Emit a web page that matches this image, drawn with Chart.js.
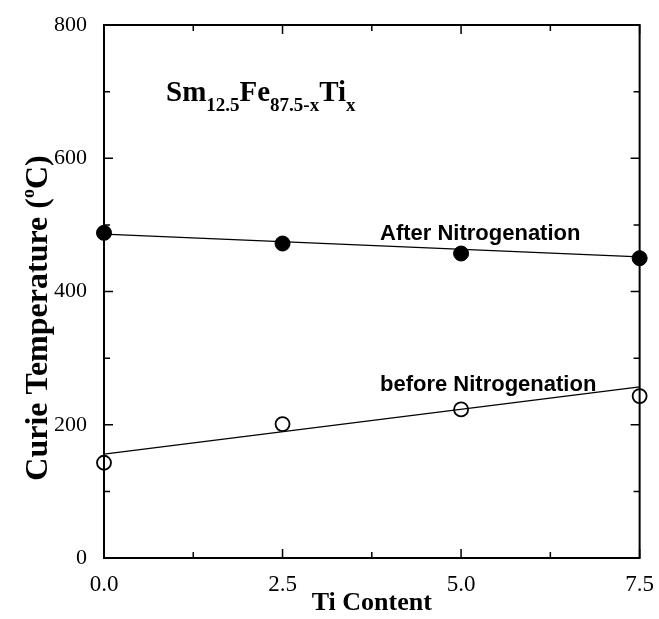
<!DOCTYPE html>
<html>
<head>
<meta charset="utf-8">
<script src="https://cdn.jsdelivr.net/npm/chart.js@4.4.1/dist/chart.umd.min.js"></script>
<style>
  html, body { margin: 0; padding: 0; background: #fff; }
  #wrap { width: 659px; height: 619px; }
</style>
</head>
<body>
<div id="wrap"><canvas id="c"></canvas></div>
<script>
// Ti content (x) and Curie temperatures
const tiContent = [0, 2.5, 5.0, 7.5];
const afterNitro = [488, 472, 457, 450];
const beforeNitro = [143, 201, 223, 243];

// straight fit lines, end points
const fitX = [0, 7.5];
const afterFit = [486, 452];
const beforeFit = [156, 257];

const xTicks = [0, 2.5, 5.0, 7.5];
const yTicks = [0, 200, 400, 600, 800];

const pts = (xs, ys) => xs.map((x, i) => ({ x: x, y: ys[i] }));

const serif = '"Liberation Serif", "Times New Roman", serif';
const sans = '"Liberation Sans", Arial, sans-serif';

// ticks on all four sides, frame and the text labels
const decor = {
    id: 'decor',
    afterDraw(chart) {
        const ctx = chart.ctx;
        const a = chart.chartArea;
        const xs = chart.scales.x;
        const ys = chart.scales.y;

        ctx.save();
        ctx.strokeStyle = '#000';
        ctx.lineWidth = 2;
        ctx.strokeRect(a.left, a.top, a.right - a.left, a.bottom - a.top);

        ctx.lineWidth = 1.5;
        ctx.beginPath();
        for (let v = 0; v <= 7.5 + 1e-9; v += 1.25) {
            const px = xs.getPixelForValue(v);
            const len = (Math.abs(v / 2.5 - Math.round(v / 2.5)) < 1e-6) ? 9 : 6;
            ctx.moveTo(px, a.bottom); ctx.lineTo(px, a.bottom - len);
            ctx.moveTo(px, a.top); ctx.lineTo(px, a.top + len);
        }
        for (let v = 0; v <= 800; v += 100) {
            const py = ys.getPixelForValue(v);
            const len = (v % 200 === 0) ? 9 : 6;
            ctx.moveTo(a.left, py); ctx.lineTo(a.left + len, py);
            ctx.moveTo(a.right, py); ctx.lineTo(a.right - len, py);
        }
        ctx.stroke();

        ctx.fillStyle = '#000';
        ctx.textBaseline = 'alphabetic';
        ctx.textAlign = 'left';

        // formula Sm12.5Fe87.5-xTix
        const big = 'bold 29px ' + serif;
        const sub = 'bold 19px ' + serif;
        const parts = [['Sm', big, 0], ['12.5', sub, 10], ['Fe', big, 0], ['87.5-x', sub, 10], ['Ti', big, 0], ['x', sub, 10]];
        let x = a.left + 62;
        const base = a.top + 76;
        parts.forEach(p => {
            ctx.font = p[1];
            ctx.fillText(p[0], x, base + p[2]);
            x += ctx.measureText(p[0]).width;
        });

        ctx.font = 'bold 22px ' + sans;
        ctx.fillText('After Nitrogenation', a.left + 276, a.top + 215);
        ctx.fillText('before Nitrogenation', a.left + 276, a.top + 366);

        // y axis title with superscript
        ctx.translate(47, 318);
        ctx.rotate(-Math.PI / 2);
        const yt = [['Curie Temperature (', 'bold 32px ' + serif, 0], ['o', 'bold 18px ' + serif, -13], ['C)', 'bold 32px ' + serif, 0]];
        let w = 0;
        yt.forEach(p => { ctx.font = p[1]; w += ctx.measureText(p[0]).width; });
        let tx = -w / 2;
        yt.forEach(p => {
            ctx.font = p[1];
            ctx.fillText(p[0], tx, p[2]);
            tx += ctx.measureText(p[0]).width;
        });
        ctx.restore();
    }
};

new Chart(document.getElementById('c'), {
    type: 'scatter',
    data: {
        datasets: [
            {
                label: 'after fit',
                type: 'line',
                data: pts(fitX, afterFit),
                borderColor: '#000',
                borderWidth: 1.3,
                pointRadius: 0,
                fill: false
            },
            {
                label: 'before fit',
                type: 'line',
                data: pts(fitX, beforeFit),
                borderColor: '#000',
                borderWidth: 1.3,
                pointRadius: 0,
                fill: false
            },
            {
                label: 'After Nitrogenation',
                data: pts(tiContent, afterNitro),
                pointRadius: 7.5,
                pointBackgroundColor: '#000',
                pointBorderColor: '#000',
                pointBorderWidth: 1
            },
            {
                label: 'before Nitrogenation',
                data: pts(tiContent, beforeNitro),
                pointRadius: 7,
                pointBackgroundColor: '#fff',
                pointBorderColor: '#000',
                pointBorderWidth: 1.8
            }
        ]
    },
    options: {
        responsive: true,
        maintainAspectRatio: false,
        animation: false,
        clip: false,
        layout: {
            padding: { top: 25, right: 17, left: 0, bottom: 0 }
        },
        plugins: {
            legend: { display: false },
            tooltip: { enabled: false }
        },
        scales: {
            x: {
                type: 'linear',
                min: 0,
                max: 7.5,
                grid: { display: false },
                border: { display: false },
                afterBuildTicks: s => { s.ticks = xTicks.map(v => ({ value: v })); },
                afterFit: s => { s.height = 61; },
                ticks: {
                    color: '#000',
                    padding: 5,
                    font: { family: serif, size: 23 },
                    callback: v => v.toFixed(1)
                },
                title: {
                    display: true,
                    text: 'Ti Content',
                    color: '#000',
                    font: { family: serif, size: 26, weight: 'bold' },
                    padding: { top: 0, bottom: 0 }
                }
            },
            y: {
                type: 'linear',
                min: 0,
                max: 800,
                grid: { display: false },
                border: { display: false },
                afterBuildTicks: s => { s.ticks = yTicks.map(v => ({ value: v })); },
                afterFit: s => { s.width = 104; },
                ticks: {
                    color: '#000',
                    padding: 9,
                    font: { family: serif, size: 22 }
                }
            }
        }
    },
    plugins: [decor]
});
</script>
</body>
</html>
